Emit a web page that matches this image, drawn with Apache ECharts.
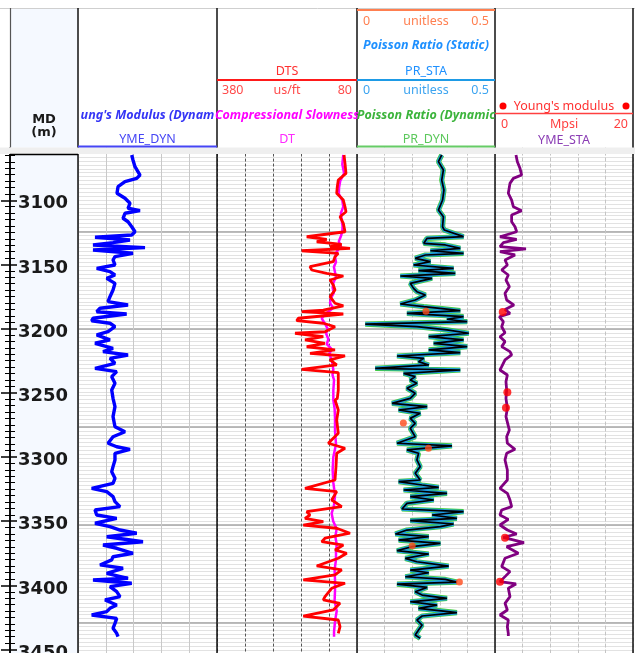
<!DOCTYPE html>
<html><head><meta charset="utf-8">
<script src="https://cdn.jsdelivr.net/npm/echarts@6/dist/echarts.min.js"></script>
<style>html,body{margin:0;padding:0;background:#fff}#c{width:635px;height:653px}</style>
</head><body><div id="c"></div>
<script>
// ---- data: [depth (m), value] ----
const YME_DYN = [[3064.7,7.73],[3068.6,7.91],[3073.8,8.20],[3080.3,8.92],[3082.9,8.45],[3085.5,6.76],[3089.4,5.76],[3094.5,5.61],[3098.4,6.76],[3102.3,7.48],[3106.2,7.20],[3108.1,8.92],[3110.1,6.76],[3114.0,6.48],[3116.7,7.20],[3120.6,7.73],[3124.5,8.20],[3127.0,7.73],[3128.8,2.45],[3130.9,7.48],[3133.0,5.04],[3134.8,2.16],[3136.9,9.64],[3138.7,2.16],[3141.3,7.91],[3143.9,5.32],[3146.5,5.04],[3150.4,5.32],[3153.0,2.69],[3155.6,4.60],[3158.2,5.32],[3160.8,4.13],[3164.7,5.32],[3169.9,5.04],[3175.1,4.60],[3179.0,4.32],[3181.6,7.20],[3184.1,3.17],[3186.8,2.69],[3188.6,7.00],[3191.9,2.16],[3193.8,1.97],[3195.8,4.60],[3198.5,5.32],[3202.4,4.32],[3204.9,2.69],[3208.8,4.60],[3211.4,2.45],[3215.3,5.04],[3217.9,3.60],[3220.5,7.20],[3223.1,4.60],[3227.0,5.32],[3230.9,2.45],[3233.5,5.57],[3237.4,4.85],[3242.6,5.32],[3247.8,4.85],[3254.3,5.04],[3260.8,5.32],[3268.6,5.04],[3276.4,5.32],[3280.3,6.76],[3284.2,5.04],[3289.3,4.32],[3292.0,5.57],[3294.0,7.48],[3297.1,5.32],[3302.3,5.32],[3307.5,5.04],[3311.4,4.85],[3316.6,5.32],[3320.5,5.04],[3324.4,1.97],[3327.0,4.13],[3330.9,5.04],[3334.8,5.32],[3338.7,6.04],[3341.3,2.45],[3345.2,2.69],[3347.8,5.57],[3351.6,2.45],[3354.3,4.60],[3356.9,6.04],[3359.4,8.45],[3362.1,4.13],[3366.0,9.35],[3368.6,3.60],[3371.1,5.57],[3375.0,7.91],[3377.7,5.04],[3380.2,4.85],[3384.1,3.17],[3386.7,6.48],[3390.6,4.13],[3394.5,7.20],[3395.8,2.16],[3398.4,7.73],[3401.0,4.60],[3404.9,5.57],[3408.8,6.04],[3411.4,3.89],[3415.3,5.57],[3417.9,4.60],[3420.5,4.13],[3423.1,1.97],[3425.7,5.57],[3429.6,5.32],[3433.5,5.04],[3437.4,5.57],[3440.0,5.76]];

const DTS = [[3064.7,107.8],[3071.2,105.7],[3079.0,103.6],[3084.2,120.1],[3089.4,122.2],[3094.5,123.5],[3099.8,109.3],[3105.0,105.7],[3108.9,103.6],[3112.8,116.4],[3117.9,109.3],[3124.5,105.7],[3128.4,187.8],[3130.4,144.9],[3132.3,166.3],[3134.3,112.8],[3136.1,137.8],[3137.4,95.0],[3139.3,198.5],[3141.3,120.1],[3143.9,127.1],[3147.8,130.8],[3151.7,180.7],[3154.3,177.1],[3156.9,144.9],[3159.0,109.3],[3162.1,137.8],[3166.0,130.8],[3169.9,127.1],[3175.1,137.8],[3180.2,127.1],[3182.3,109.3],[3185.5,152.2],[3186.8,198.5],[3188.6,109.3],[3191.9,205.8],[3193.8,209.2],[3195.8,152.2],[3198.5,127.1],[3202.4,148.6],[3203.6,212.8],[3206.3,152.2],[3208.8,191.4],[3211.4,148.6],[3214.1,187.8],[3216.6,127.1],[3219.2,180.7],[3221.3,105.7],[3224.4,137.8],[3228.3,123.5],[3231.7,198.5],[3234.3,120.1],[3240.0,120.1],[3247.8,120.1],[3254.3,122.2],[3255.6,127.1],[3263.4,120.1],[3271.2,123.5],[3281.5,120.1],[3289.3,141.5],[3293.2,105.7],[3297.1,123.5],[3307.5,125.0],[3317.9,127.1],[3324.4,191.4],[3327.0,123.5],[3333.5,134.2],[3338.7,112.8],[3342.6,187.8],[3345.2,180.7],[3347.8,191.4],[3350.4,152.2],[3353.0,195.1],[3355.5,123.5],[3359.4,95.0],[3363.3,148.6],[3366.0,155.6],[3368.6,109.3],[3372.4,127.1],[3375.0,102.1],[3378.9,120.1],[3384.9,166.3],[3388.0,112.8],[3391.9,127.1],[3395.8,195.1],[3398.4,105.7],[3402.3,134.2],[3408.8,148.6],[3411.4,152.2],[3414.0,116.4],[3419.2,130.8],[3423.9,195.1],[3427.0,120.1],[3432.2,116.4],[3437.4,120.1]];

const DT = [[3064.7,49.8],[3072,50.5],[3079,49.2],[3085,52.0],[3090,52.8],[3095,53.0],[3100,50.5],[3105,49.8],[3110,51.5],[3115,51.0],[3120,50.3],[3124.5,50.5],[3128,51.5],[3132,53.0],[3136,51.5],[3140,54.5],[3144,55.7],[3148,55.0],[3152,56.5],[3156,55.7],[3160,55.0],[3164,56.8],[3168,57.4],[3172,56.5],[3176,58.5],[3180,59.3],[3184,57.0],[3188,62.0],[3192,65.2],[3196,63.0],[3200,61.0],[3204,62.0],[3208,60.5],[3212,61.5],[3216,58.1],[3220,60.0],[3224,58.0],[3228,57.5],[3232,56.9],[3236,57.5],[3240,56.4],[3248,56.9],[3255.6,56.9],[3262,56.0],[3270,55.7],[3280,55.7],[3290,55.0],[3300,56.9],[3310,57.4],[3320,56.9],[3330,55.7],[3338,56.5],[3344,58.1],[3350,57.0],[3356,54.5],[3362,55.5],[3368,54.5],[3374,55.0],[3380,55.0],[3388,56.0],[3396,55.7],[3404,55.7],[3412,56.0],[3420,54.5],[3428,55.7],[3436,56.4],[3440,56.4]];

const PR_DYN = [[3064.7,0.307],[3069.9,0.295],[3076.4,0.313],[3084.2,0.307],[3092.0,0.315],[3099.8,0.310],[3107.6,0.295],[3112.8,0.313],[3120.6,0.310],[3123.1,0.316],[3128.3,0.386],[3129.6,0.254],[3133.5,0.242],[3134.8,0.320],[3137.4,0.374],[3139.3,0.266],[3141.3,0.386],[3142.6,0.248],[3145.2,0.211],[3147.8,0.266],[3150.4,0.205],[3153.0,0.350],[3154.8,0.223],[3156.9,0.356],[3159.0,0.157],[3160.8,0.272],[3162.1,0.278],[3164.7,0.193],[3168.6,0.205],[3171.2,0.217],[3173.8,0.248],[3177.7,0.211],[3180.8,0.157],[3182.9,0.242],[3186.0,0.374],[3188.1,0.181],[3190.7,0.386],[3192.7,0.326],[3194.6,0.399],[3196.4,0.030],[3198.4,0.217],[3201.0,0.326],[3203.6,0.405],[3206.2,0.260],[3208.8,0.386],[3211.4,0.278],[3214.0,0.399],[3216.6,0.260],[3218.7,0.374],[3221.3,0.145],[3223.1,0.242],[3225.7,0.223],[3228.3,0.260],[3230.9,0.066],[3232.2,0.374],[3234.8,0.169],[3237.4,0.211],[3240.0,0.193],[3242.6,0.217],[3246.5,0.181],[3250.4,0.211],[3254.3,0.193],[3258.2,0.127],[3260.8,0.254],[3263.4,0.151],[3266.0,0.229],[3269.9,0.193],[3273.8,0.211],[3277.7,0.193],[3279.0,0.199],[3284.2,0.211],[3289.3,0.145],[3291.4,0.344],[3294.5,0.181],[3297.1,0.223],[3302.3,0.217],[3307.5,0.229],[3312.7,0.211],[3317.9,0.229],[3319.2,0.151],[3321.8,0.236],[3323.6,0.296],[3325.7,0.169],[3328.3,0.326],[3330.9,0.193],[3333.5,0.278],[3336.1,0.181],[3340.5,0.163],[3342.6,0.386],[3345.2,0.272],[3347.8,0.362],[3349.6,0.193],[3352.2,0.350],[3354.3,0.302],[3356.9,0.181],[3360.0,0.139],[3362.1,0.260],[3364.7,0.151],[3367.3,0.302],[3369.9,0.199],[3373.0,0.145],[3375.6,0.260],[3379.0,0.175],[3381.6,0.217],[3385.0,0.332],[3388.1,0.193],[3390.2,0.260],[3393.3,0.175],[3395.4,0.320],[3397.5,0.362],[3399.0,0.145],[3401.6,0.254],[3405.0,0.211],[3407.6,0.236],[3410.2,0.326],[3412.8,0.193],[3415.4,0.290],[3418.0,0.223],[3421.3,0.362],[3423.9,0.236],[3427.0,0.217],[3430.9,0.236],[3434.8,0.223],[3438.7,0.211],[3441.3,0.229]];

const PR_CORE = [[3186.5,0.250],[3273.5,0.168],[3293.2,0.259],[3369.1,0.200],[3397.4,0.371]];

const YME_STA = [[3064.7,3.04],[3069.9,3.24],[3075.1,3.62],[3080.3,3.86],[3082.9,2.66],[3086.8,2.17],[3094.5,1.93],[3099.8,2.41],[3105.0,2.66],[3108.1,3.86],[3111.4,2.41],[3116.7,2.41],[3120.6,2.90],[3124.5,3.14],[3128.4,0.72],[3130.4,3.14],[3133.0,1.21],[3136.1,0.72],[3137.9,4.49],[3140.0,0.72],[3142.6,2.90],[3146.5,1.45],[3150.4,1.79],[3154.3,0.97],[3158.2,1.93],[3162.1,1.59],[3167.3,2.08],[3172.5,1.45],[3177.7,1.69],[3181.6,2.75],[3185.0,1.45],[3188.1,2.17],[3190.7,0.63],[3194.6,1.21],[3198.5,0.97],[3203.2,1.45],[3206.3,0.72],[3210.1,1.45],[3214.0,0.97],[3217.9,2.17],[3220.5,2.41],[3224.4,1.45],[3229.6,0.97],[3232.2,0.72],[3236.1,1.79],[3241.3,1.59],[3247.8,1.69],[3254.3,1.59],[3262.1,1.79],[3268.6,1.59],[3279.0,2.08],[3284.2,1.69],[3289.3,1.79],[3294.0,2.90],[3297.1,1.69],[3302.3,1.45],[3310.1,1.79],[3317.9,1.79],[3324.4,0.72],[3328.3,1.79],[3333.5,2.17],[3338.7,2.41],[3341.3,0.97],[3345.2,0.72],[3348.6,1.93],[3353.0,0.72],[3356.9,1.79],[3360.0,3.14],[3362.6,1.21],[3366.7,4.20],[3369.9,1.69],[3375.0,3.38],[3378.9,1.45],[3385.4,0.97],[3389.3,2.17],[3393.2,1.45],[3397.1,0.72],[3398.9,3.04],[3402.3,1.93],[3408.8,2.17],[3414.0,1.45],[3419.2,1.79],[3423.1,0.72],[3427.0,1.93],[3432.2,1.79],[3437.4,1.93],[3439.5,1.93]];

const YM_CORE = [[3187.0,1.12],[3249.6,1.79],[3261.6,1.59],[3362.9,1.45],[3397.1,0.72]];

// ---- layout ----
const PX_PER_M = 1.2835, Y3100 = 200.3, D_MAX = 3460;
const Y = d => Y3100 + (d - 3100) * PX_PER_M;
const DEPTH_MIN = 3050;          // label axis (multiple of 50)
const GRID_MIN = 3048;           // 10000 ft, multiple of 10 ft
const FT10 = 3.048, FT250 = 76.2;
const TRACKS = [{left:78,width:139},{left:217,width:140},{left:357,width:138},{left:495,width:138}];

const grids = [{left:10, width:68, top:Y(DEPTH_MIN), height:Y(D_MAX)-Y(DEPTH_MIN), show:true, backgroundColor:'#f5f9ff', borderWidth:0, outerBoundsMode:'none', containLabel:false}];
TRACKS.forEach(t => grids.push({left:t.left, width:t.width, top:Y(GRID_MIN), height:Y(D_MAX)-Y(GRID_MIN), show:false, outerBoundsMode:'none', containLabel:false}));

const off = {axisLine:{show:false}, axisTick:{show:false}, axisLabel:{show:false}};
const xAxis = [
  {gridIndex:0, type:'value', min:0, max:1, show:false},
  Object.assign({gridIndex:1, type:'value', min:0, max:20, interval:4, splitLine:{show:true, lineStyle:{color:'#c9c9c9', width:1}}}, off),
  Object.assign({gridIndex:2, type:'value', min:80, max:380, inverse:true, interval:60, splitLine:{show:true, lineStyle:{color:'#555', width:1, type:[3,2]}}}, off),
  {gridIndex:2, type:'value', min:40, max:140, inverse:true, show:false},
  Object.assign({gridIndex:3, type:'value', min:0, max:0.5, interval:0.1, splitLine:{show:true, lineStyle:{color:'#c4c4c4', width:1, type:[4,2]}}}, off),
  Object.assign({gridIndex:4, type:'value', min:0, max:20, interval:4, splitLine:{show:true, lineStyle:{color:'#c4c4c4', width:1, type:[4,2]}}}, off)
];

const labelFont = {fontFamily:'DejaVu Sans', fontWeight:'bold', fontSize:18, color:'#1a1a1a'};
const yAxis = [
  {gridIndex:0, type:'value', inverse:true, min:DEPTH_MIN, max:D_MAX, interval:50, position:'right',
   axisLine:{show:true, lineStyle:{color:'#000', width:1.5}},
   axisTick:{show:true, inside:true, length:9, lineStyle:{color:'#000', width:1.5}},
   minorTick:{show:true, splitNumber:10, length:5, lineStyle:{color:'#000', width:1}},
   axisLabel:Object.assign({show:true, inside:true, margin:10, verticalAlign:'top', lineHeight:7, formatter: v => String(Math.round(v))}, labelFont),
   splitLine:{show:false}},
  {gridIndex:0, type:'value', inverse:true, min:DEPTH_MIN, max:D_MAX, interval:50, position:'left',
   axisLine:{show:true, lineStyle:{color:'#000', width:1.5}},
   axisTick:{show:true, inside:true, length:7, lineStyle:{color:'#000', width:1.5}},
   minorTick:{show:true, splitNumber:10, length:5, lineStyle:{color:'#000', width:1}},
   axisLabel:{show:false}, splitLine:{show:false}}
];
for (let g = 1; g <= 4; g++) {
  yAxis.push(Object.assign({gridIndex:g, type:'value', inverse:true, min:GRID_MIN, max:D_MAX, interval:FT10,
    splitLine:{show:true, lineStyle:{color:'#e2e2e2', width:1}}}, off));
  yAxis.push(Object.assign({gridIndex:g, type:'value', inverse:true, min:GRID_MIN, max:D_MAX, interval:FT250,
    splitLine:{show:true, lineStyle:{color:'#a6a6a6', width:1.5}}}, off));
}
const fy = g => 2 + (g - 1) * 2; // fine y axis index of track g

const xy = arr => arr.map(p => [p[1], p[0]]);
const lineS = (name, xi, g, data, color, width, z) => ({type:'line', name, xAxisIndex:xi, yAxisIndex:fy(g), data:xy(data),
  showSymbol:false, symbol:'none', lineStyle:{color, width}, itemStyle:{color}, z, silent:true});
const series = [
  lineS('YME_DYN', 1, 1, YME_DYN, '#0000ff', 3.4, 3),
  lineS('DT', 3, 2, DT, '#ff00ff', 2.5, 3),
  lineS('DTS', 2, 2, DTS, '#ff0000', 2.8, 4),
  lineS('PR_DYN', 4, 3, PR_DYN, '#44cc44', 5.2, 3),
  lineS('PR_STA', 4, 3, PR_DYN, '#1e9be6', 3.6, 4),
  lineS('PR_DYN_core', 4, 3, PR_DYN, '#000000', 1.7, 5),
  {type:'scatter', name:'PR_CORE', xAxisIndex:4, yAxisIndex:fy(3), data:xy(PR_CORE), symbolSize:7, itemStyle:{color:'#ff4a1a'}, z:6},
  lineS('YME_STA', 5, 4, YME_STA, '#800080', 2.8, 3),
  {type:'scatter', name:'YM_CORE', xAxisIndex:5, yAxisIndex:fy(4), data:xy(YM_CORE), symbolSize:8, itemStyle:{color:'#ff0000'}, z:6}
];

// ---- header graphics ----
const G = [];
const F = '12.5px "Noto Sans"', FB = 'italic bold 12.5px "Noto Sans"';
const rect = (x,y,w,h,fill,z) => G.push({type:'rect', shape:{x,y,width:w,height:h}, style:{fill}, z:z, silent:true});
const ln = (x1,y1,x2,y2,stroke,w,z) => G.push({type:'line', shape:{x1,y1,x2,y2}, style:{stroke, lineWidth:w}, z:z||104, silent:true});
const tx = (x,y,t,fill,align,font) => G.push({type:'text', x, y, style:{text:t, fill, font:font||F, align:align||'center', verticalAlign:'middle', textAlign:align||'center', textVerticalAlign:'middle'}, z:105, silent:true});

rect(0,0,635,147.5,'#ffffff',100);
rect(10,8,68,139.5,'#f5f9ff',100);
ln(0,8.5,635,8.5,'#cfcfcf',1,101);
ln(10.5,8,10.5,147.5,'#555',1.2,101);
[78,217,357,495,633].forEach(x => ln(x,8,x,653,'#111',1.5,101));
rect(0,147.5,635,6.5,'#efefef',102);
ln(10,154.5,78,154.5,'#000',1.5,103);

// depth header
tx(44,120,'MD','#1a1a1a','center','bold 13px "DejaVu Sans"');
tx(44,133,'(m)','#1a1a1a','center','bold 13px "DejaVu Sans"');
// track 1
tx(147.5,115,"ung's Modulus (Dynam",'#3535f5','center',FB);
tx(147.5,139,'YME_DYN','#4646f5');
ln(78,146.5,217,146.5,'#4646f5',2);
// track 2
tx(287,71,'DTS','#ff3030');
ln(217,80,357,80,'#ff1a1a',2);
tx(222,90,'380','#ff4a4a','left'); tx(287,90,'us/ft','#ff4a4a'); tx(352,90,'80','#ff4a4a','right');
tx(287,115,'Compressional Slowness','#ff00ff','center',FB);
tx(287,139,'DT','#ff2aff');
// track 3
ln(357,10,495,10,'#ff7f50',2);
tx(363,21,'0','#ff7f50','left'); tx(426,21,'unitless','#ff7f50'); tx(489,21,'0.5','#ff7f50','right');
tx(426,45,'Poisson Ratio (Static)','#1e90ff','center',FB);
tx(426,71,'PR_STA','#1e90ff');
ln(357,80,495,80,'#1e9be6',2);
tx(363,90,'0','#3ca4f0','left'); tx(426,90,'unitless','#3ca4f0'); tx(489,90,'0.5','#3ca4f0','right');
tx(426,115,'Poisson Ratio (Dynamic','#3cb43c','center',FB);
tx(426,139,'PR_DYN','#5cc85c');
ln(357,146.5,495,146.5,'#66cc66',2);
// track 4
G.push({type:'circle', shape:{cx:503, cy:106, r:3.5}, style:{fill:'#ff0000'}, z:105, silent:true});
G.push({type:'circle', shape:{cx:626, cy:106, r:3.5}, style:{fill:'#ff0000'}, z:105, silent:true});
tx(564,106,"Young's modulus",'#ff3030');
ln(495,113.5,633,113.5,'#ff4040',1.5);
tx(501,124,'0','#ff4040','left'); tx(564,124,'Mpsi','#ff4040'); tx(628,124,'20','#ff4040','right');
tx(564,140,'YME_STA','#8a3cb4');

const chart = echarts.init(document.getElementById('c'), null, {renderer:'canvas'});
chart.setOption({animation:false, backgroundColor:'#ffffff', grid:grids, xAxis, yAxis, series, graphic:{elements:G}});
</script></body></html>
